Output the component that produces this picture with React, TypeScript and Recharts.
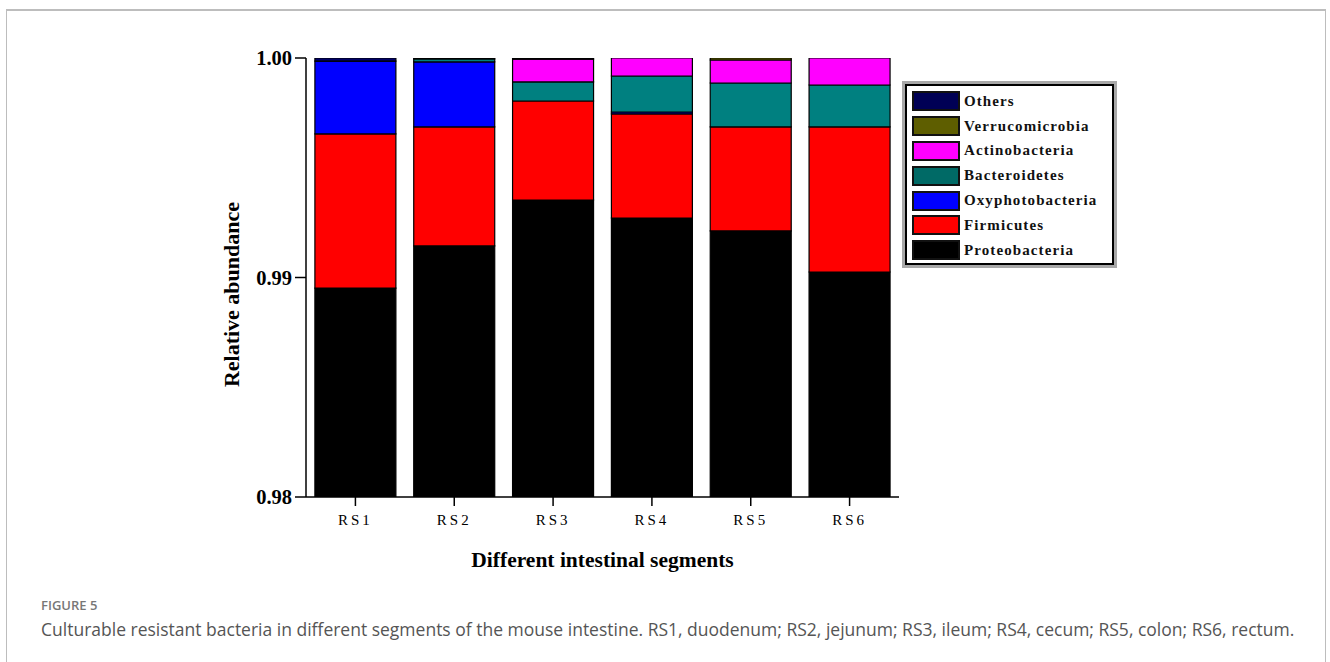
import React from 'react';
import { BarChart, Bar, XAxis, YAxis, Label } from 'recharts';

// segments along the intestine
const segments = ['RS1', 'RS2', 'RS3', 'RS4', 'RS5', 'RS6'];

// relative abundance per phylum
const proteobacteria = [0.98952, 0.99144, 0.99353, 0.99271, 0.99212, 0.99025];
const firmicutes = [0.00702, 0.00542, 0.00451, 0.00474, 0.00474, 0.00661];
const oxyphotobacteria = [0.00332, 0.00296, 0, 0.00009, 0, 0];
const bacteroidetes = [0, 0.00014, 0.00087, 0.00164, 0.002, 0.00191];
const actinobacteria = [0, 0, 0.00104, 0.00082, 0.00105, 0.00123];
const verrucomicrobia = [0, 0, 0, 0, 0.00009, 0];
const others = [0.00014, 0.00004, 0.00005, 0, 0, 0];

const yTicks = [0.98, 0.99, 1.0];

// stacking order bottom -> top
const series = [
  { key: 'Proteobacteria', values: proteobacteria, color: '#000000' },
  { key: 'Firmicutes', values: firmicutes, color: '#ff0000' },
  { key: 'Oxyphotobacteria', values: oxyphotobacteria, color: '#0000ff' },
  { key: 'Bacteroidetes', values: bacteroidetes, color: '#008080' },
  { key: 'Actinobacteria', values: actinobacteria, color: '#ff00ff' },
  { key: 'Verrucomicrobia', values: verrucomicrobia, color: '#666600' },
  { key: 'Others', values: others, color: '#000066' },
];

// legend swatches are a touch darker than the bars in the original
const legendColors: Record<string, string> = {
  Others: '#000055',
  Verrucomicrobia: '#5e5e00',
  Actinobacteria: '#ff00ff',
  Bacteroidetes: '#006a66',
  Oxyphotobacteria: '#0000ff',
  Firmicutes: '#ff0000',
  Proteobacteria: '#000000',
};

const chartData = segments.map((name, i) => {
  const row: any = { name };
  series.forEach(s => { row[s.key] = s.values[i]; });
  return row;
});

const serif = '"Liberation Serif", "Times New Roman", serif';
const sans = '"Open Sans", "Noto Sans", sans-serif';

const LegendBox = () => {
  const items = [...series].reverse();
  return (
    <div style={{ position: 'absolute', left: 902, top: 81, border: '3px solid #a8a8a8', background: '#fff' }}>
      <div style={{ border: '2px solid #000', padding: '3px 6px 0px 5px', width: 209, boxSizing: 'border-box' }}>
        {items.map(s => (
          <div key={s.key} style={{ display: 'flex', alignItems: 'center', height: 24.8 }}>
            <div style={{ width: 44, height: 16, background: legendColors[s.key], border: '2px solid #111', marginRight: 4 }} />
            <span style={{ fontFamily: serif, fontWeight: 700, fontSize: 15, letterSpacing: 1.1, color: '#111' }}>{s.key}</span>
          </div>
        ))}
      </div>
    </div>
  );
};

const YTitle = (props: any) => {
  const { viewBox } = props;
  const x = viewBox.x - 15;
  const y = viewBox.y + viewBox.height / 2 + 17;
  return (
    <text x={x} y={y} transform={`rotate(-90, ${x}, ${y})`} textAnchor="middle" dominantBaseline="central"
      fontFamily={serif} fontWeight={700} fontSize={22} fill="#000">
      Relative abundance
    </text>
  );
};

export default function App() {
  return (
    <div style={{ position: 'absolute', left: 0, top: 0, width: 1330, height: 662, overflow: 'hidden', background: '#fff' }}>
      <div style={{ position: 'absolute', left: 6, top: 9, width: 1318, height: 700, border: '1px solid #bdbdbd', borderTop: '2px solid #bdbdbd' }} />
      <div style={{ position: 'absolute', left: 0, top: 0 }}>
        <BarChart width={1330} height={662} data={chartData} barCategoryGap="9%"
          margin={{ top: 58, right: 431, bottom: 135, left: 246 }}>
          <XAxis dataKey="name" height={30} axisLine={{ stroke: '#000', strokeWidth: 1.5 }}
            tickLine={{ stroke: '#000', strokeWidth: 1.5 }} tickSize={9} tickMargin={8}
            tick={{ fontFamily: serif, fontSize: 15, fill: '#000', letterSpacing: 3 }}>
            <Label value="Different intestinal segments" position="bottom" offset={25}
              style={{ fontFamily: serif, fontWeight: 700, fontSize: 21.5, fill: '#000' }} />
          </XAxis>
          <YAxis type="number" domain={[0.98, 1.0]} ticks={yTicks} allowDataOverflow width={60}
            axisLine={{ stroke: '#000', strokeWidth: 1.5 }} tickLine={{ stroke: '#000', strokeWidth: 1.5 }}
            tickSize={11} tickMargin={3} tickFormatter={(v: number) => v.toFixed(2)}
            tick={{ fontFamily: serif, fontWeight: 700, fontSize: 20.5, fill: '#000' }}>
            <Label content={<YTitle />} />
          </YAxis>
          {series.map(s => (
            <Bar key={s.key} dataKey={s.key} stackId="a" fill={s.color} stroke="#000" strokeWidth={1.2}
              isAnimationActive={false} />
          ))}
        </BarChart>
      </div>
      <LegendBox />
      <div style={{ position: 'absolute', left: 41, top: 596, fontFamily: sans, fontWeight: 600, fontSize: 13, color: '#777' }}>
        FIGURE 5
      </div>
      <div style={{ position: 'absolute', left: 41, top: 617, fontFamily: sans, fontSize: 17.5, color: '#555', whiteSpace: 'nowrap' }}>
        Culturable resistant bacteria in different segments of the mouse intestine. RS1, duodenum; RS2, jejunum; RS3, ileum; RS4, cecum; RS5, colon; RS6, rectum.
      </div>
    </div>
  );
}
